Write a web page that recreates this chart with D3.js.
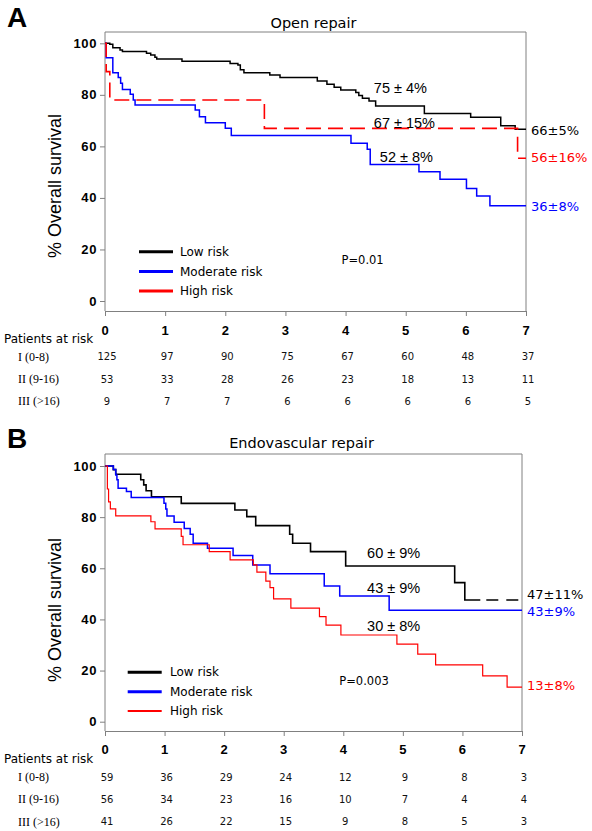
<!DOCTYPE html>
<html>
<head>
<meta charset="utf-8">
<script src="https://cdn.jsdelivr.net/npm/d3@7"></script>
<style>
  html, body { margin: 0; padding: 0; background: #fff; }
  svg { display: block; }
</style>
</head>
<body>
<svg id="chart" width="592" height="831"></svg>
<script>
// ---------------- DATA ----------------
const years = [0, 1, 2, 3, 4, 5, 6, 7];
const yTicks = [0, 20, 40, 60, 80, 100];
const seriesNames = ["Low risk", "Moderate risk", "High risk"];
const riskGroups = ["I (0-8)", "II (9-16)", "III (>16)"];
const atRiskTitle = "Patients at risk";
const yAxisTitle = "% Overall survival";

// Panel A: Open repair  — [years, % survival] step points
const openTitle = "Open repair";
const openLow = [[0,100],[0.08,99.6],[0.13,98.3],[0.25,97.4],[0.29,96.8],[0.69,96.1],[0.76,95.5],[0.83,94.6],[0.86,93.9],[1.28,93.0],[2.08,92.2],[2.21,91.6],[2.25,89.7],[2.31,88.6],[2.74,87.7],[2.91,86.7],[3.53,85.4],[3.69,84.1],[3.81,82.9],[3.92,81.9],[4.17,80.9],[4.22,79.7],[4.28,78.7],[4.39,77.6],[4.5,75.7],[5.31,72.8],[6.08,71.3],[6.58,68.0],[6.82,66.6]];
const openModerate = [[0,100],[0.02,94.4],[0.13,88.6],[0.22,86.7],[0.26,84.5],[0.29,82.1],[0.42,80.2],[0.47,78.0],[0.5,76.1],[1.5,74.1],[1.57,71.5],[1.67,69.2],[2.0,67.0],[2.1,64.2],[4.09,61.2],[4.36,58.9],[4.41,53.0],[5.22,50.2],[5.57,47.2],[6.01,43.7],[6.18,40.7],[6.4,37.0]];
const openHigh = [[0,100],[0.02,89.0],[0.08,78.0],[2.65,67.0],[6.86,55.4]];
const openAtRisk = [[125,97,90,75,67,60,48,37],[53,33,28,26,23,18,13,11],[9,7,7,6,6,6,6,5]];
const openInner = ["75 \u00b1 4%", "67 \u00b1 15%", "52 \u00b1 8%"];
const openEnd = ["66\u00b15%", "36\u00b18%", "56\u00b116%"];
const openP = "P=0.01";

// Panel B: Endovascular repair
const endoTitle = "Endovascular repair";
const endoLow = [[0,100],[0.14,98.6],[0.18,96.8],[0.6,94.6],[0.65,92.6],[0.69,90.3],[0.78,88.0],[1.28,85.4],[2.18,82.8],[2.38,80.2],[2.53,76.7],[3.1,73.3],[3.15,69.8],[3.45,66.5],[4.04,60.9],[5.87,54.4],[6.04,47.6],[6.3,47.6]];
const endoLowCensoredTail = [[6.3,47.6],[7,47.6]];
const endoModerate = [[0,100],[0.14,98.6],[0.18,96.5],[0.2,94.6],[0.22,91.3],[0.36,90.0],[0.44,87.7],[0.99,85.4],[1.02,83.2],[1.04,80.4],[1.16,78.0],[1.33,75.6],[1.43,73.3],[1.48,69.8],[1.72,67.8],[2.15,65.0],[2.48,61.3],[2.77,57.9],[3.68,53.1],[3.94,49.2],[4.77,43.6]];
const endoHigh = [[0,100],[0.04,91.0],[0.06,86.0],[0.09,83.2],[0.18,80.5],[0.77,78.2],[0.84,75.4],[1.28,72.5],[1.31,69.2],[1.75,66.5],[2.1,63.3],[2.49,61.3],[2.55,58.5],[2.7,55.0],[2.77,52.4],[2.83,48.0],[3.12,44.4],[3.6,41.1],[3.71,37.8],[3.96,33.9],[4.9,30.3],[5.25,26.4],[5.55,22.2],[6.34,17.9],[6.75,13.5]];
const endoAtRisk = [[59,36,29,24,12,9,8,3],[56,34,23,16,10,7,4,4],[41,26,22,15,9,8,5,3]];
const endoInner = ["60 \u00b1 9%", "43 \u00b1 9%", "30 \u00b1 8%"];
const endoEnd = ["47\u00b111%", "43\u00b19%", "13\u00b18%"];
const endoP = "P=0.003";

// ---------------- LAYOUT / STYLE ----------------
const colors = ["#000000", "#0000ff", "#ff0000"];
const frameColor = "#808080";

const panels = [
  {
    letter: "A", title: openTitle, titleX: 313.5, titleY: 28, letterY: 27,
    x0: 105, x7: 526, frameTop: 32, axisY: 311, yZero: 301, yHundred: 43.3,
    yLabelY: 186,
    series: [openLow, openModerate, openHigh],
    dashed: [null, null, "15,7"],
    widths: [1.5, 1.5, 1.6],
    tails: [],
    legendX: 139, legendTextX: 180, legendY: [251.7, 271.5, 291], legendWidths: [3, 3, 3],
    pText: openP, pX: 341.5, pY: 260,
    inner: openInner, innerPos: [[4.47, 82.5], [4.47, 69.2], [4.57, 56.0]],
    end: openEnd, endColors: ["#000", "#0000ff", "#ff0000"], endY: [66.1, 36.6, 55.8],
    atRisk: openAtRisk, tickLabelY: 330, parY: 339, rowY: [356.7, 379, 401]
  },
  {
    letter: "B", title: endoTitle, titleX: 301.5, titleY: 448, letterY: 448,
    x0: 105, x7: 522, frameTop: 454, axisY: 731, yZero: 721.7, yHundred: 466,
    yLabelY: 610,
    series: [endoLow, endoModerate, endoHigh],
    dashed: [null, null, null],
    widths: [1.6, 1.5, 1.2],
    tails: [{data: endoLowCensoredTail, color: "#000", dash: "12,8", offset: 14, width: 1.6}],
    legendX: 127.7, legendTextX: 170, legendY: [672.3, 691.7, 711], legendWidths: [3, 3, 2],
    pText: endoP, pX: 339.3, pY: 680.7,
    inner: endoInner, innerPos: [[4.4, 66.1], [4.4, 52.4], [4.4, 37.6]],
    end: endoEnd, endColors: ["#000", "#0000ff", "#ff0000"], endY: [49.6, 43.0, 14.0],
    atRisk: endoAtRisk, tickLabelY: 749, parY: 759, rowY: [777.3, 799.3, 821.7]
  }
];

const svg = d3.select("#chart");

panels.forEach(p => {
  const g = svg.append("g");
  const x = d3.scaleLinear().domain([0, 7]).range([p.x0, p.x7]);
  const y = d3.scaleLinear().domain([0, 100]).range([p.yZero, p.yHundred]);

  // Panel letter
  g.append("text").attr("x", 7).attr("y", p.letterY)
    .attr("font-family", "Liberation Sans, Arial, sans-serif")
    .attr("font-weight", "bold").attr("font-size", 28).attr("fill", "#000")
    .text(p.letter);

  // Title
  g.append("text").attr("x", p.titleX).attr("y", p.titleY)
    .attr("text-anchor", "middle")
    .attr("font-family", "DejaVu Sans, Verdana, sans-serif")
    .attr("font-size", 14.5).attr("fill", "#000")
    .text(p.title);

  // Frame (top + right + left), x axis line
  g.append("path")
    .attr("d", `M${p.x0},${p.axisY}V${p.frameTop}H${p.x7}V${p.axisY}`)
    .attr("fill", "none").attr("stroke", frameColor).attr("stroke-width", 1);

  // X axis
  const xAxis = d3.axisBottom(x).tickValues(years).tickSize(5).tickFormat("");
  const xg = g.append("g").attr("transform", `translate(0,${p.axisY})`).call(xAxis);
  xg.select(".domain").attr("stroke", frameColor);
  xg.selectAll(".tick line").attr("stroke", frameColor);
  g.selectAll(".xlab").data(years).enter().append("text")
    .attr("x", d => x(d)).attr("y", p.tickLabelY)
    .attr("text-anchor", "middle").attr("dominant-baseline", "central")
    .attr("font-family", "Liberation Sans, Arial, sans-serif")
    .attr("font-weight", "bold").attr("font-size", 13).attr("fill", "#000")
    .text(d => d);

  // Y axis ticks (on left frame)
  const yAxis = d3.axisLeft(y).tickValues(yTicks).tickSize(5).tickFormat("");
  const yg = g.append("g").attr("transform", `translate(${p.x0},0)`).call(yAxis);
  yg.select(".domain").remove();
  yg.selectAll(".tick line").attr("stroke", frameColor);
  g.selectAll(".ylab").data(yTicks).enter().append("text")
    .attr("x", p.x0 - 8).attr("y", d => y(d))
    .attr("text-anchor", "end").attr("dominant-baseline", "central")
    .attr("font-family", "Liberation Sans, Arial, sans-serif")
    .attr("font-weight", "bold").attr("font-size", 13).attr("letter-spacing", 0.6)
    .attr("fill", "#000")
    .text(d => d);

  // Y axis title
  g.append("text")
    .attr("transform", `translate(61,${p.yLabelY}) rotate(-90)`)
    .attr("text-anchor", "middle")
    .attr("font-family", "Liberation Sans, Arial, sans-serif")
    .attr("font-size", 18).attr("fill", "#000")
    .text(yAxisTitle);

  // Curves
  const line = d3.line().x(d => x(d[0])).y(d => y(d[1])).curve(d3.curveStepAfter);
  p.series.forEach((s, i) => {
    const pts = s.slice();
    const last = pts[pts.length - 1];
    if (p.tails.length === 0 || i !== 0) {
      if (last[0] < 7) pts.push([7, last[1]]);
    }
    g.append("path").attr("d", line(pts))
      .attr("fill", "none").attr("stroke", colors[i])
      .attr("stroke-width", p.widths[i])
      .attr("stroke-dasharray", p.dashed[i])
      .attr("stroke-linejoin", "miter");
  });
  p.tails.forEach(t => {
    g.append("path").attr("d", line(t.data))
      .attr("fill", "none").attr("stroke", t.color).attr("stroke-width", t.width)
      .attr("stroke-dasharray", t.dash).attr("stroke-dashoffset", t.offset);
  });

  // Legend
  seriesNames.forEach((name, i) => {
    g.append("line")
      .attr("x1", p.legendX).attr("x2", p.legendX + 34)
      .attr("y1", p.legendY[i]).attr("y2", p.legendY[i])
      .attr("stroke", colors[i]).attr("stroke-width", p.legendWidths[i]);
    g.append("text").attr("x", p.legendTextX).attr("y", p.legendY[i])
      .attr("dominant-baseline", "central")
      .attr("font-family", "DejaVu Sans, Verdana, sans-serif")
      .attr("font-size", 12).attr("fill", "#000")
      .text(name);
  });

  // P value
  g.append("text").attr("x", p.pX).attr("y", p.pY)
    .attr("dominant-baseline", "central")
    .attr("font-family", "DejaVu Sans, Verdana, sans-serif")
    .attr("font-size", 11.5).attr("fill", "#000")
    .text(p.pText);

  // Inner annotations
  p.inner.forEach((t, i) => {
    g.append("text").attr("x", x(p.innerPos[i][0])).attr("y", y(p.innerPos[i][1]))
      .attr("dominant-baseline", "central")
      .attr("font-family", "Liberation Sans, Arial, sans-serif")
      .attr("font-size", 14.5).attr("fill", "#000")
      .text(t);
  });

  // End labels
  p.end.forEach((t, i) => {
    g.append("text").attr("x", p.x7 + 5).attr("y", y(p.endY[i]))
      .attr("dominant-baseline", "central")
      .attr("font-family", "DejaVu Sans, Verdana, sans-serif")
      .attr("font-size", 13).attr("fill", p.endColors[i])
      .text(t);
  });

  // Patients at risk table
  g.append("text").attr("x", 4).attr("y", p.parY)
    .attr("dominant-baseline", "central")
    .attr("font-family", "DejaVu Sans, Verdana, sans-serif")
    .attr("font-size", 12).attr("fill", "#000")
    .text(atRiskTitle);
  riskGroups.forEach((rg, r) => {
    g.append("text").attr("x", 18).attr("y", p.rowY[r])
      .attr("dominant-baseline", "central")
      .attr("font-family", "Liberation Serif, Times New Roman, serif")
      .attr("font-size", 12).attr("fill", "#000")
      .text(rg);
    g.selectAll(null).data(p.atRisk[r]).enter().append("text")
      .attr("x", (d, j) => x(years[j]) + 2).attr("y", p.rowY[r])
      .attr("text-anchor", "middle").attr("dominant-baseline", "central")
      .attr("font-family", "DejaVu Sans, Verdana, sans-serif")
      .attr("font-size", 10).attr("fill", "#111")
      .text(d => d);
  });
});
</script>
</body>
</html>
